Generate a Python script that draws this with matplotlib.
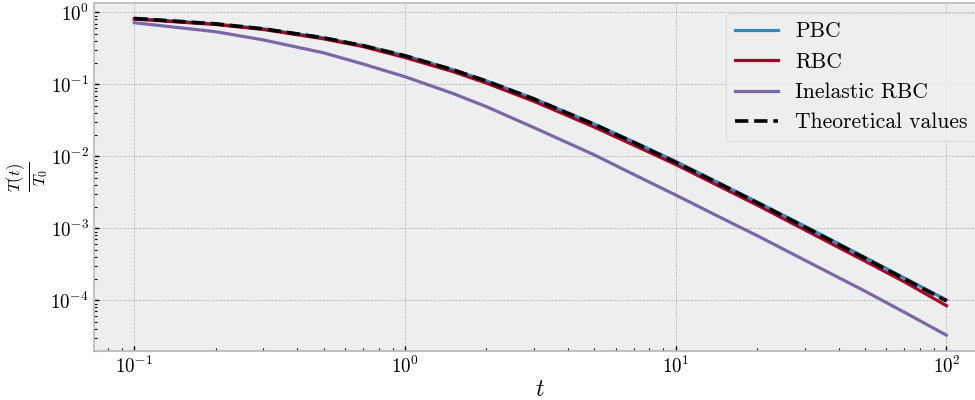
import numpy as np
import matplotlib
matplotlib.use("Agg")
import matplotlib.pyplot as plt

plt.style.use("bmh")
plt.rcParams["font.family"] = "serif"
plt.rcParams["font.serif"] = ["cmr10", "DejaVu Serif"]
plt.rcParams["mathtext.fontset"] = "cm"
plt.rcParams["axes.formatter.use_mathtext"] = True

# temps relatives
t = [0.1, 0.2, 0.3, 0.5, 0.7, 1.0, 1.5, 2.0, 3.0, 5.0, 7.0,
     10.0, 15.0, 20.0, 30.0, 50.0, 70.0, 100.0]
T_pbc = [0.826, 0.694, 0.592, 0.445, 0.347, 0.251, 0.161, 0.112, 0.0632,
         0.0282, 0.0159, 0.0085, 0.00399, 0.00232, 0.00107, 0.000395,
         0.000204, 0.000101]
T_rbc = [0.81, 0.68, 0.58, 0.43, 0.335, 0.236, 0.151, 0.104, 0.058,
         0.0255, 0.0143, 0.0077, 0.0036, 0.0021, 0.00095, 0.00035,
         0.00018, 0.000084]
T_inel = [0.72, 0.54, 0.415, 0.275, 0.192, 0.128, 0.075, 0.049, 0.025,
          0.0105, 0.0056, 0.0029, 0.00135, 0.00079, 0.00036, 0.000134,
          0.000068, 0.0000327]
T_theo = [0.826, 0.694, 0.592, 0.444, 0.346, 0.25, 0.16, 0.111, 0.0625,
          0.0278, 0.0156, 0.00826, 0.0039, 0.00227, 0.00104, 0.000384,
          0.000198, 0.000098]

fig = plt.figure(figsize=(9.75, 4), dpi=100)
ax = fig.add_axes([0.0961, 0.1225, 0.9162, 0.871])

ax.plot(t, T_pbc, lw=2.3, label="PBC")
ax.plot(t, T_rbc, lw=2.3, label="RBC")
ax.plot(t, T_inel, lw=2.3, label="Inelastic RBC")
ax.plot(t, T_theo, "k--", lw=2.6, label="Theoretical values")

ax.set_xscale("log")
ax.set_yscale("log")
ax.tick_params(which="both", labelsize=13.7, direction="in", color="black")
ax.tick_params(which="major", length=3.5, width=1)
ax.tick_params(which="minor", length=2, width=0.8)
for sp in ax.spines.values():
    sp.set_linewidth(1.3)
ax.set_xlabel(r"$t$", fontsize=17, labelpad=1)
ax.set_ylabel(r"$\frac{T(t)}{T_0}$", fontsize=17, labelpad=0)
ax.legend(loc="upper right", fontsize=15.5)

fig.savefig("out.png", dpi=100)
